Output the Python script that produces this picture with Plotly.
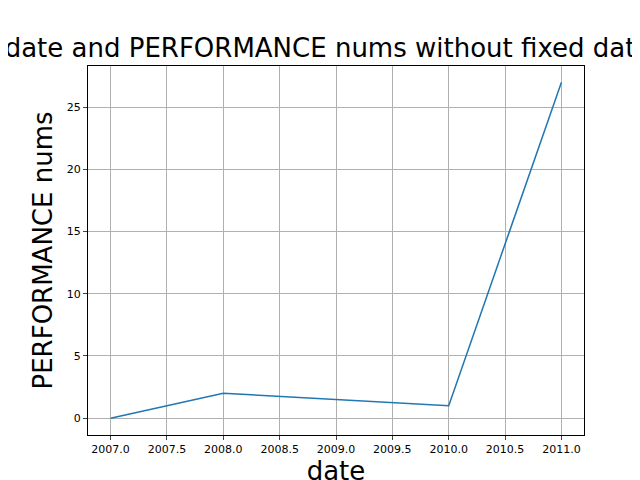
import plotly.graph_objects as go

dates = [2007, 2008, 2010, 2011]
perf = [0, 2, 1, 27]

fig = go.Figure(go.Scatter(x=dates, y=perf, mode="lines",
                           line=dict(color="#1f77b4", width=1.5)))
fig.update_layout(
    width=640, height=480, plot_bgcolor="white", paper_bgcolor="white",
    margin=dict(l=80, r=64, t=58, b=53), showlegend=False,
    font=dict(family="DejaVu Sans", color="black"),
    title=dict(text="date and PERFORMANCE nums without fixed date", x=0.5, xanchor="center",
               y=1 - 40/480, yanchor="middle", font=dict(size=26), automargin=False),
)
axis = dict(showline=True, mirror=True, linecolor="black", linewidth=1,
            showgrid=True, gridcolor="#b0b0b0", gridwidth=1, ticks="outside",
            ticklen=4, tickfont=dict(size=11), zeroline=False, automargin=False)
fig.update_xaxes(**axis, range=[2006.8, 2011.2], tickvals=[2007+0.5*i for i in range(9)],
                 ticktext=[f"{2007+0.5*i:.1f}" for i in range(9)],
                 title=dict(text="date", font=dict(size=26), standoff=6))
fig.update_yaxes(**axis, range=[-1.35, 28.3], tickvals=[0, 5, 10, 15, 20, 25],
                 title=dict(text="PERFORMANCE nums", font=dict(size=26), standoff=6))
fig.write_html("out.html")
